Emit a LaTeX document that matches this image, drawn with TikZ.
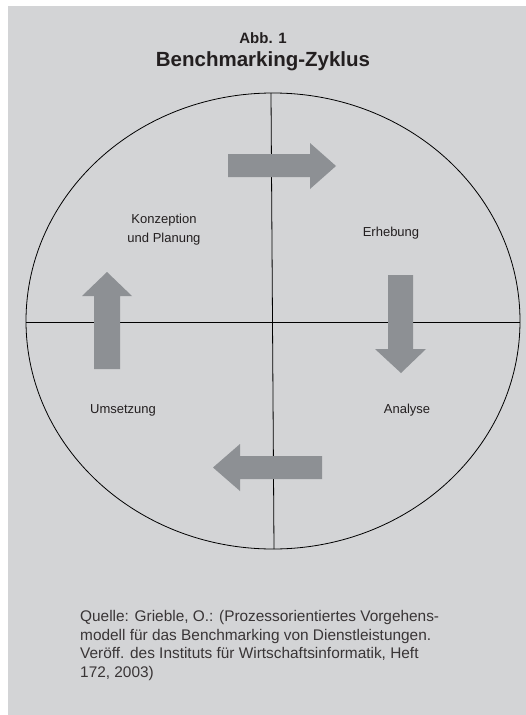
\documentclass[tikz,border=0pt]{standalone}
\usepackage{fontspec}
\setmainfont{Liberation Sans}
\definecolor{bg}{HTML}{D3D4D6}
\definecolor{arr}{HTML}{8D9094}
\definecolor{txt}{HTML}{231F20}
\begin{document}
\begin{tikzpicture}[x=1pt,y=-1pt,
  lbl/.style={font=\fontsize{13}{16}\selectfont, text=txt, align=center, inner sep=0pt},
  arrowshape/.style={fill=arr, draw=none},
  divline/.style={draw=black, line width=0.8pt}]
\useasboundingbox (0,0) rectangle (526,715);
\fill[bg] (8,6) rectangle (526,715);
% title
\node[font=\bfseries\fontsize{15}{18}\selectfont, text=txt, inner sep=0pt] (abb) at (263,38) {Abb. 1};
\node[font=\bfseries\fontsize{20.5}{24}\selectfont, text=txt, inner sep=0pt] (title) at (263,61) {Benchmarking-Zyklus};
% ellipse
\draw[divline] (273,321) ellipse [x radius=247, y radius=228];
\coordinate (top) at (271,93);
\coordinate (bot) at (274,549);
\coordinate (lft) at (26,322);
\coordinate (rgt) at (520,322);
\draw[divline] (top) -- (bot);
\draw[divline] (lft) -- (rgt);
% arrows
\fill[arrowshape] (228,154) -- (310,154) -- (310,143) -- (336,166) -- (310,189) -- (310,177) -- (228,177) -- cycle;
\fill[arrowshape] (388,275) -- (413,275) -- (413,349) -- (426,349) -- (401,373) -- (375,349) -- (388,349) -- cycle;
\fill[arrowshape] (322,456) -- (240,456) -- (240,444) -- (213,467.5) -- (240,491) -- (240,479) -- (322,479) -- cycle;
\fill[arrowshape] (94,369) -- (94,296) -- (82,296) -- (107,272) -- (132,296) -- (120,296) -- (120,369) -- cycle;
% labels
\node[lbl] (konz) at (164,230) {Konzeption\\[3pt]und Planung};
\node[lbl] (erh) at (391,233) {Erhebung};
\node[lbl] (ums) at (123,410) {Umsetzung};
\node[lbl] (ana) at (407,410) {Analyse};
% source
\node[font=\fontsize{15.4}{18.7}\selectfont, text=txt!90, align=left, anchor=north west, inner sep=0pt] (src) at (80,610)
{Quelle: Grieble, O.: (Prozessorientiertes Vorgehens-\\
modell für das Benchmarking von Dienstleistungen.\\
Veröff. des Instituts für Wirtschaftsinformatik, Heft\\
172, 2003)};
\end{tikzpicture}
\end{document}
